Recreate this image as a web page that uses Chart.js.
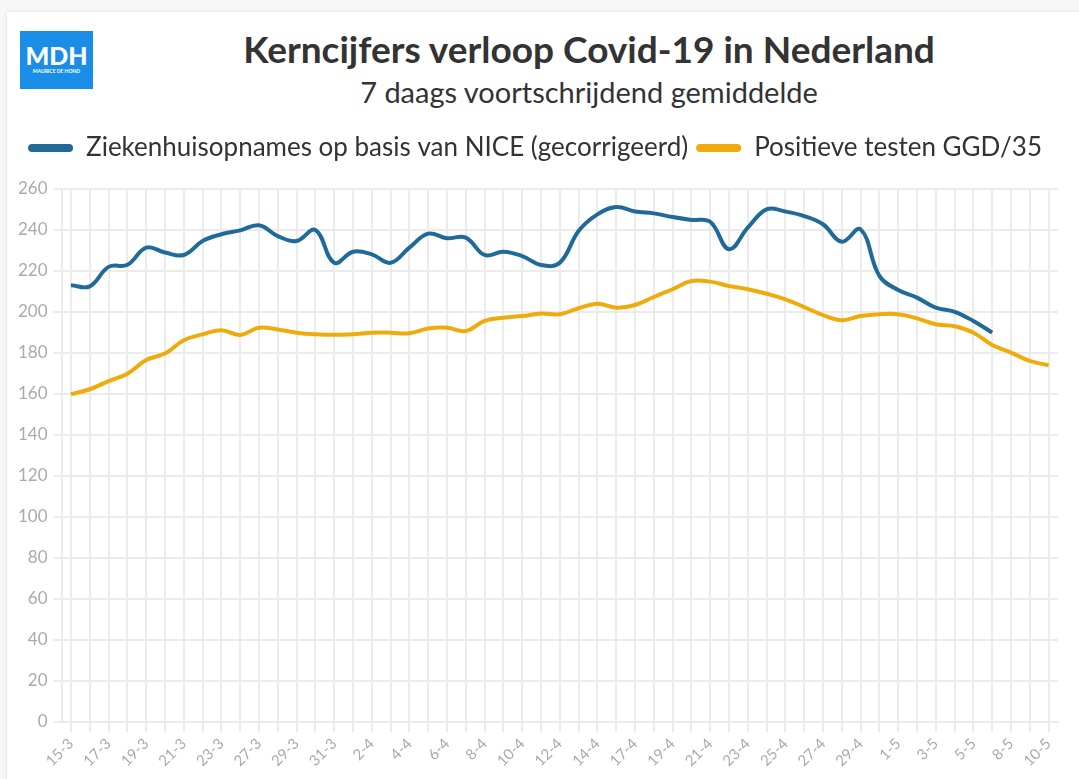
<!DOCTYPE html>
<html>
<head>
<meta charset="utf-8">
<script src="https://cdn.jsdelivr.net/npm/chart.js@4"></script>
<style>
  body { margin: 0; background: #f7f7f7; font-family: Lato, "Open Sans", sans-serif; }
  #card { position: absolute; left: 7px; top: 12px; width: 1090px; height: 790px; background: #fff;
          box-shadow: 0 0 3px rgba(0,0,0,0.12); }
  #logo { position: absolute; left: 20px; top: 31px; width: 73px; height: 58px; background: #1a8ee6; color: #fff; text-align: center; }
  #logo .big { font: 900 25px Lato, sans-serif; margin-top: 12px; line-height: 24px; }
  #logo .small { font: 700 5px Lato, sans-serif; margin-top: 1px; }
  #head { position: absolute; left: 99px; width: 980px; top: 24px; text-align: center; color: #333; }
  #head h1 { margin: 0; font: 700 37px Lato, sans-serif; line-height: 50px; }
  #head h2 { margin: 0; font: 400 29px Lato, sans-serif; line-height: 36px; color: #333; }
  #wrap { position: absolute; left: 7px; top: 127px; width: 1072px; height: 652px; }
</style>
</head>
<body>
<div id="card"></div>
<div id="logo"><div class="big">MDH</div><div class="small">MAURICE DE HOND</div></div>
<div id="head">
  <h1>Kerncijfers verloop Covid-19 in Nederland</h1>
  <h2>7 daags voortschrijdend gemiddelde</h2>
</div>
<div id="wrap"><canvas id="chart"></canvas></div>
<script>
const dates = ['15-3', '16-3', '17-3', '18-3', '19-3', '20-3', '21-3', '22-3', '23-3', '25-3',
  '27-3', '28-3', '29-3', '30-3', '31-3', '1-4', '2-4', '3-4', '4-4', '5-4',
  '6-4', '7-4', '8-4', '9-4', '10-4', '11-4', '12-4', '13-4', '14-4', '16-4',
  '17-4', '18-4', '19-4', '20-4', '21-4', '22-4', '23-4', '24-4', '25-4', '26-4',
  '27-4', '28-4', '29-4', '30-4', '1-5', '2-5', '3-5', '4-5', '5-5', '7-5',
  '8-5', '9-5', '10-5'];

const ziekenhuis = [213, 212.5, 222, 223, 231.4, 229, 227.8, 234.6, 237.9, 239.8,
  242.3, 237, 234.6, 240, 224, 229.4, 228.1, 224, 231.4, 238.2,
  236, 236.3, 227.8, 229.4, 227.3, 222.9, 224, 239.5, 247.6, 251.2,
  249, 248.1, 246.3, 244.9, 244, 230.6, 241.1, 250.1, 249, 246.8,
  242.8, 234.3, 240.3, 217.6, 210.7, 207, 202.1, 200.1, 195.6, 189.9];

const positief = [159.9, 162.3, 166.3, 169.9, 176.6, 179.7, 186.2, 189.1, 191.1, 188.8,
  192.3, 191.5, 189.9, 189.1, 188.9, 189.1, 189.9, 189.9, 189.6, 191.9,
  192.3, 190.7, 195.6, 197.2, 198, 199.2, 198.9, 201.8, 204, 202.1,
  203.4, 207.3, 211.1, 215.1, 214.8, 212.7, 211.1, 208.9, 206.2, 202.4,
  198.5, 196, 198, 198.9, 198.9, 196.9, 194, 193, 189.9, 183.9,
  180.2, 176.1, 174];

const seriesNames = ['Ziekenhuisopnames op basis van NICE (gecorrigeerd)', 'Positieve testen GGD/35'];
const seriesColors = ['#1f6a98', '#efab0b'];

// extra room under the legend
const legendGap = {
  id: 'legendGap',
  beforeInit(chart) {
    const fit = chart.legend.fit;
    chart.legend.fit = function () {
      fit.bind(chart.legend)();
      this.height += 18;
    };
  }
};

window.addEventListener('load', () => {
  const ctx = document.getElementById('chart');

  new Chart(ctx, {
    type: 'line',
    data: {
      labels: dates,
      datasets: [{
        label: seriesNames[0],
        data: ziekenhuis,
        borderColor: seriesColors[0],
        backgroundColor: seriesColors[0],
        borderWidth: 4,
        pointRadius: 0,
        tension: 0.4
      }, {
        label: seriesNames[1],
        data: positief,
        borderColor: seriesColors[1],
        backgroundColor: seriesColors[1],
        borderWidth: 4,
        pointRadius: 0,
        tension: 0.4
      }]
    },
    options: {
      responsive: true,
      maintainAspectRatio: false,
      animation: false,
      layout: { padding: { right: 21, left: 5, bottom: 6 } },
      scales: {
        x: {
          offset: true,
          grid: { color: '#ebebeb', lineWidth: 2, offset: false, tickLength: 10 },
          border: { color: '#ebebeb', width: 2 },
          ticks: {
            autoSkip: false,
            minRotation: 45,
            maxRotation: 45,
            color: '#aaa',
            font: { family: 'Lato', size: 15 },
            callback: function (value, index) {
              return index % 2 === 0 ? this.getLabelForValue(value) : '';
            }
          }
        },
        y: {
          min: 0,
          max: 260,
          grid: { color: '#ebebeb', lineWidth: 2, tickLength: 8 },
          border: { color: '#ebebeb', width: 2 },
          ticks: {
            stepSize: 20,
            color: '#aaa',
            padding: 6,
            font: { family: 'Lato', size: 17 }
          }
        }
      },
      plugins: {
        legend: {
          labels: {
            boxWidth: 45,
            boxHeight: 8,
            padding: 8,
            color: '#333',
            font: { family: 'Lato', size: 26 },
            useBorderRadius: true,
            borderRadius: 4,
            generateLabels: (chart) => Chart.defaults.plugins.legend.labels.generateLabels(chart)
              .map(l => Object.assign(l, { lineWidth: 0 }))
          }
        },
        tooltip: { enabled: false }
      }
    },
    plugins: [legendGap]
  });
});
</script>
</body>
</html>
